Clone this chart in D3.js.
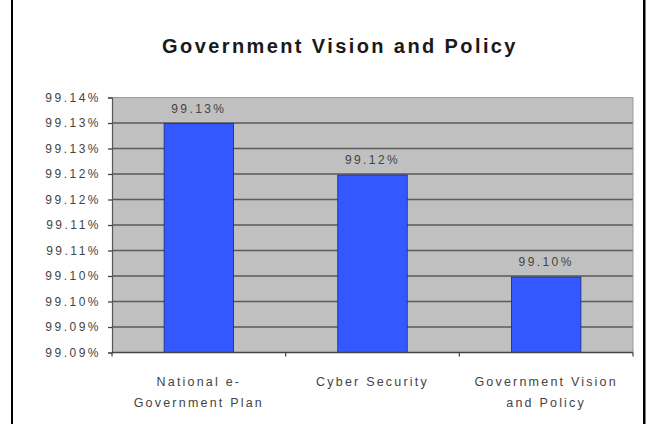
<!DOCTYPE html>
<html>
<head>
<meta charset="utf-8">
<script src="https://cdn.jsdelivr.net/npm/d3@7"></script>
<style>
  html, body { margin: 0; padding: 0; background: #fff; }
  svg { display: block; }
  text { font-family: "Liberation Sans", Arial, sans-serif; }
</style>
</head>
<body>
<svg id="chart" width="651" height="424"></svg>
<script>
const title = "Government Vision and Policy";
const categories = [
  ["National e-", "Government Plan"],
  ["Cyber Security"],
  ["Government Vision", "and Policy"]
];
const values = [99.1349, 99.1248, 99.1048];
const valueLabels = ["99.13%", "99.12%", "99.10%"];
const tickValues = [99.09, 99.095, 99.10, 99.105, 99.11, 99.115, 99.12, 99.125, 99.13, 99.135, 99.14];
const tickLabels = ["99.09%", "99.09%", "99.10%", "99.10%", "99.11%", "99.11%", "99.12%", "99.12%", "99.13%", "99.13%", "99.14%"];

const svg = d3.select("#chart");
const W = 651, H = 424;
const m = { left: 112, right: 18, top: 97.5, bottom: 71.5 };
const pw = W - m.left - m.right, ph = H - m.top - m.bottom;

// frame lines
svg.append("rect").attr("x", 11).attr("y", 0).attr("width", 2).attr("height", H).attr("fill", "#000");
svg.append("rect").attr("x", 643).attr("y", 0).attr("width", 2.5).attr("height", H).attr("fill", "#000");

// title
svg.append("text")
  .attr("x", 340).attr("y", 53)
  .attr("text-anchor", "middle")
  .attr("font-size", 20).attr("font-weight", "bold")
  .attr("letter-spacing", 2.4)
  .attr("fill", "#1a1a1a")
  .text(title);

const g = svg.append("g").attr("transform", `translate(${m.left},${m.top})`);

const x = d3.scaleBand().domain(d3.range(categories.length)).range([0, pw]).padding(0);
const y = d3.scaleLinear().domain([99.09, 99.14]).range([ph, 0]);

// plot background
g.append("rect").attr("width", pw).attr("height", ph).attr("fill", "#c0c0c0");

// gridlines
g.selectAll(".grid").data(tickValues.slice(1, -1)).enter().append("line")
  .attr("x1", 0).attr("x2", pw)
  .attr("y1", d => y(d)).attr("y2", d => y(d))
  .attr("stroke", "#5a5a5a").attr("stroke-width", 1.6);
// top / right border of plot area
g.append("line").attr("x1", 0).attr("x2", pw).attr("y1", 0).attr("y2", 0)
  .attr("stroke", "#9a9a9a").attr("stroke-width", 1);
g.append("line").attr("x1", pw).attr("x2", pw).attr("y1", 0).attr("y2", ph)
  .attr("stroke", "#9a9a9a").attr("stroke-width", 1);

// bars
const bw = x.bandwidth() * 0.4;
g.selectAll(".bar").data(values).enter().append("rect")
  .attr("x", (d, i) => x(i) + (x.bandwidth() - bw) / 2)
  .attr("y", d => y(d))
  .attr("width", bw)
  .attr("height", d => ph - y(d))
  .attr("fill", "#3358ff")
  .attr("stroke", "#1a2a80").attr("stroke-width", 0.8);

// value labels
g.selectAll(".vlab").data(values).enter().append("text")
  .attr("x", (d, i) => x(i) + x.bandwidth() / 2)
  .attr("y", d => y(d) - 11)
  .attr("text-anchor", "middle")
  .attr("font-size", 12).attr("letter-spacing", 2.4)
  .attr("fill", "#444")
  .text((d, i) => valueLabels[i]);

// y axis
const yAxis = d3.axisLeft(y).tickValues(tickValues).tickSize(4).tickPadding(7)
  .tickFormat((d, i) => tickLabels[i]);
const ya = g.append("g").call(yAxis);
ya.select(".domain").attr("stroke", "#555").attr("stroke-width", 1.2);
ya.selectAll(".tick line").attr("stroke", "#444").attr("stroke-width", 1.3);
ya.selectAll(".tick text").attr("font-size", 12).attr("letter-spacing", 2.5)
  .attr("fill", "#444").attr("font-family", "Liberation Sans, Arial, sans-serif");

// x axis
const xa = g.append("g").attr("transform", `translate(0,${ph})`);
xa.append("line").attr("x1", 0).attr("x2", pw).attr("stroke", "#444").attr("stroke-width", 1.5);
xa.selectAll(".xt").data(d3.range(categories.length + 1)).enter().append("line")
  .attr("x1", i => i < categories.length ? x(i) : pw)
  .attr("x2", i => i < categories.length ? x(i) : pw)
  .attr("y1", 0).attr("y2", 4)
  .attr("stroke", "#444").attr("stroke-width", 1.2);
const cl = xa.selectAll(".cl").data(categories).enter().append("text")
  .attr("x", (d, i) => x(i) + x.bandwidth() / 2)
  .attr("y", 33)
  .attr("text-anchor", "middle")
  .attr("font-size", 12.5).attr("letter-spacing", 2.2)
  .attr("fill", "#444");
cl.selectAll("tspan").data(d => d).enter().append("tspan")
  .attr("x", function() { return d3.select(this.parentNode).attr("x"); })
  .attr("dy", (d, i) => i === 0 ? 0 : 21)
  .text(d => d);
</script>
</body>
</html>
